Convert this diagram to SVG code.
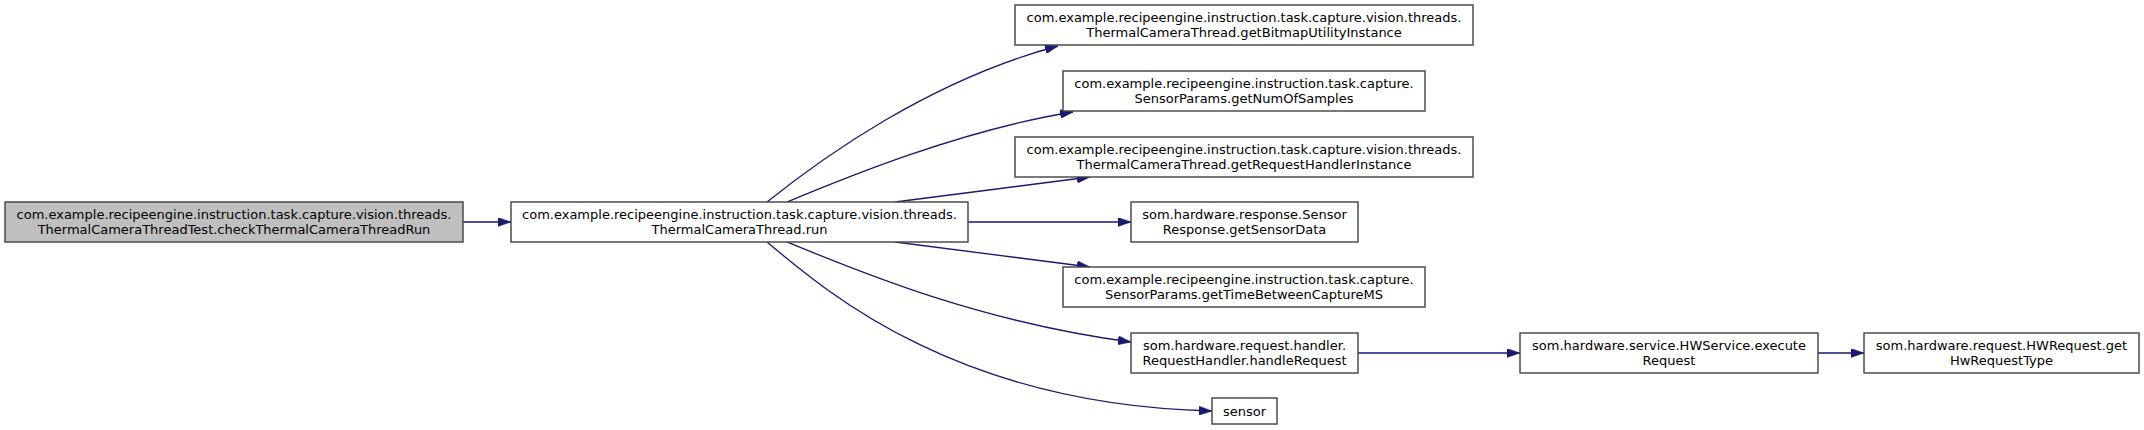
<svg xmlns="http://www.w3.org/2000/svg" width="2144" height="430" viewBox="0 0 2144 430">
<defs>
<marker id="arr" markerUnits="userSpaceOnUse" viewBox="0 0 13 9" refX="13" refY="4.5" markerWidth="13" markerHeight="9" orient="auto">
<path d="M0,0 L13,4.5 L0,9 z" fill="#191970" stroke="#191970" stroke-width="0.5"/>
</marker>
</defs>
<style>
rect{fill:#ffffff;stroke:#404040;stroke-width:1.4}
#n0 rect{fill:#bfbfbf}
text{font-family:"DejaVu Sans",sans-serif;font-size:13px;fill:#000;text-anchor:middle}
#edges path{fill:none;stroke:#191970;stroke-width:1.3;marker-end:url(#arr)}
</style>
<rect x="0" y="0" width="2144" height="430" style="fill:#fff;stroke:none"/>
<g id="edges">
<path d="M463,222 L511,222"/>
<path d="M767,202 C822,158 930,80 1058,46"/>
<path d="M787,202 C840,180 960,130 1073,112"/>
<path d="M895,202 C950,195 1020,186 1090,177"/>
<path d="M968,222 L1131,222"/>
<path d="M895,242 C950,249 1020,258 1090,267"/>
<path d="M787,242 C860,272 980,322 1131,342"/>
<path d="M767,242 C830,295 960,405 1212,411"/>
<path d="M1358,353 L1520,353"/>
<path d="M1818,353 L1864,353"/>
</g>
<g id="n0"><rect x="5" y="202" width="458" height="40"/><text x="234" y="219">com.example.recipeengine.instruction.task.capture.vision.threads.</text><text x="234" y="233.5">ThermalCameraThreadTest.checkThermalCameraThreadRun</text></g>
<g id="n1"><rect x="511" y="202" width="457" height="40"/><text x="739.5" y="219">com.example.recipeengine.instruction.task.capture.vision.threads.</text><text x="739.5" y="233.5">ThermalCameraThread.run</text></g>
<g id="n2"><rect x="1015" y="5" width="458" height="40"/><text x="1244" y="22">com.example.recipeengine.instruction.task.capture.vision.threads.</text><text x="1244" y="36.5">ThermalCameraThread.getBitmapUtilityInstance</text></g>
<g id="n3"><rect x="1063" y="71" width="362" height="40"/><text x="1244" y="88">com.example.recipeengine.instruction.task.capture.</text><text x="1244" y="102.5">SensorParams.getNumOfSamples</text></g>
<g id="n4"><rect x="1015" y="137" width="458" height="40"/><text x="1244" y="154">com.example.recipeengine.instruction.task.capture.vision.threads.</text><text x="1244" y="168.5">ThermalCameraThread.getRequestHandlerInstance</text></g>
<g id="n5"><rect x="1131" y="202" width="227" height="40"/><text x="1244.5" y="219">som.hardware.response.Sensor</text><text x="1244.5" y="233.5">Response.getSensorData</text></g>
<g id="n6"><rect x="1063" y="267" width="362" height="40"/><text x="1244" y="284">com.example.recipeengine.instruction.task.capture.</text><text x="1244" y="298.5">SensorParams.getTimeBetweenCaptureMS</text></g>
<g id="n7"><rect x="1131" y="333" width="227" height="40"/><text x="1244.5" y="350">som.hardware.request.handler.</text><text x="1244.5" y="364.5">RequestHandler.handleRequest</text></g>
<g id="n8"><rect x="1212" y="398" width="65" height="26"/><text x="1244.5" y="415.5">sensor</text></g>
<g id="n9"><rect x="1520" y="333" width="298" height="40"/><text x="1669" y="350">som.hardware.service.HWService.execute</text><text x="1669" y="364.5">Request</text></g>
<g id="n10"><rect x="1864" y="333" width="275" height="40"/><text x="2001.5" y="350">som.hardware.request.HWRequest.get</text><text x="2001.5" y="364.5">HwRequestType</text></g>
</svg>
